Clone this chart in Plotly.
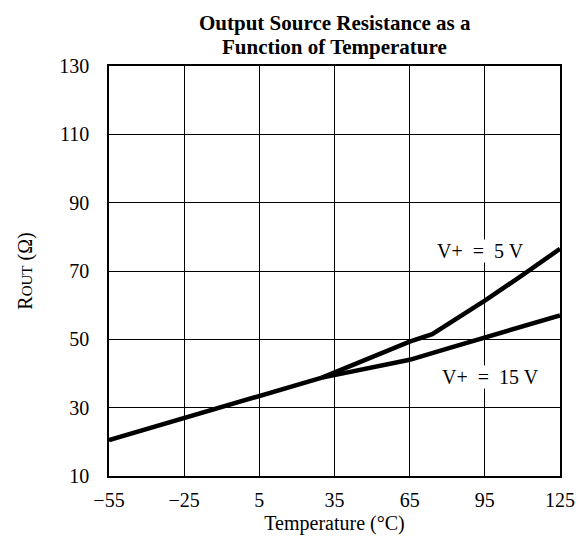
import plotly.graph_objects as go

# Data
common_t = [-55, -25, 5, 20, 30]
common_r = [20.5, 27.0, 33.5, 36.5, 38.8]

v5_t = [30, 35, 50, 65, 74, 95, 110, 125]
v5_r = [38.8, 40.3, 45.0, 49.3, 51.5, 61.3, 68.8, 76.5]

v15_t = [30, 35, 50, 65, 80, 95, 125]
v15_r = [38.8, 39.5, 41.8, 44.0, 47.3, 50.5, 57.0]

x_ticks = [-55, -25, 5, 35, 65, 95, 125]
y_ticks = [10, 30, 50, 70, 90, 110, 130]

FONT = "Liberation Serif"

fig = go.Figure()
line = dict(color="black", width=4.5)
for t, r in [(common_t, common_r), (v5_t, v5_r), (v15_t, v15_r)]:
    fig.add_trace(go.Scatter(x=t, y=r, mode="lines", line=line, showlegend=False,
                             hoverinfo="skip"))

fig.update_layout(
    width=587, height=544,
    margin=dict(l=109, r=20, t=66, b=68),
    paper_bgcolor="white", plot_bgcolor="white",
    font=dict(family=FONT, size=20, color="black"),
    showlegend=False,
)
fig.update_xaxes(
    range=[-55, 125], tickvals=x_ticks,
    ticktext=[("\u2212" + str(-v)) if v < 0 else str(v) for v in x_ticks],
    showgrid=True, gridcolor="black", gridwidth=1,
    showline=True, linecolor="black", linewidth=1.5, mirror=True,
    zeroline=False, ticks="", ticklabelstandoff=5,
    tickfont=dict(family=FONT, size=20),
    title=dict(text="Temperature (°C)", font=dict(family=FONT, size=20), standoff=6),
)
fig.update_yaxes(
    range=[10, 130], tickvals=y_ticks,
    showgrid=True, gridcolor="black", gridwidth=1,
    showline=True, linecolor="black", linewidth=1.5, mirror=True,
    zeroline=False, ticks="", ticklabelstandoff=14,
    tickfont=dict(family=FONT, size=20),
    title=dict(text="R<span style='font-size:15px'>OUT</span> (Ω)",
               font=dict(family=FONT, size=20), standoff=21),
)

fig.add_annotation(text="<b>Output Source Resistance as a</b>", xref="paper", yref="paper",
                   x=0.5, y=1 + 43/410, showarrow=False, yanchor="middle",
                   font=dict(family=FONT, size=21))
fig.add_annotation(text="<b>Function of Temperature</b>", xref="paper", yref="paper",
                   x=0.5, y=1 + 19/410, showarrow=False, yanchor="middle",
                   font=dict(family=FONT, size=21))

fig.add_annotation(text="V+\u2002=\u20025 V", x=93.4, y=76, xref="x", yref="y", showarrow=False,
                   bgcolor="white", borderpad=0, font=dict(family=FONT, size=20))
fig.add_annotation(text="V+\u2002=\u200215 V", x=97.2, y=39, xref="x", yref="y", showarrow=False,
                   bgcolor="white", borderpad=0, font=dict(family=FONT, size=20))

fig.write_html("out.html", config={"displayModeBar": False},
               post_script="document.body.style.margin='0';")
